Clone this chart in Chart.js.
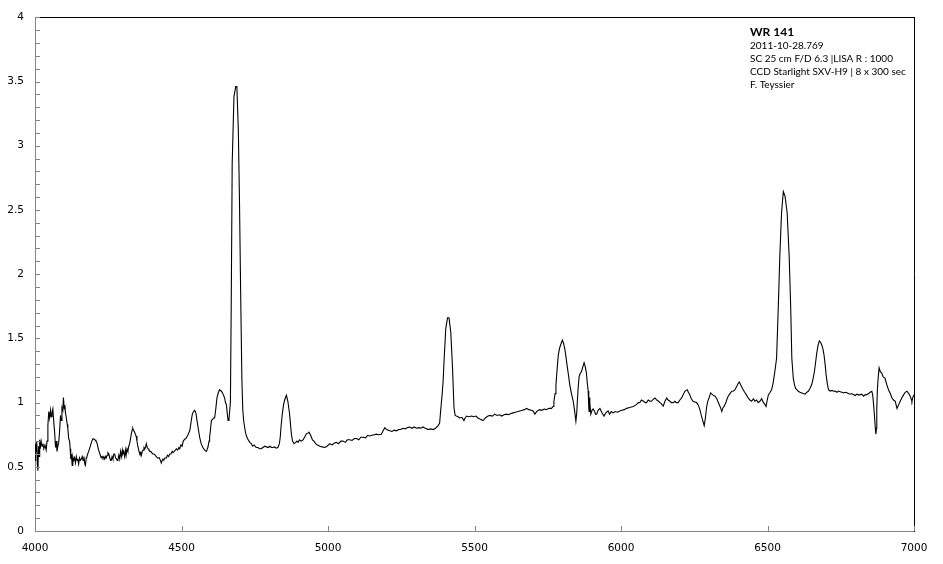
<!DOCTYPE html>
<html><head><meta charset="utf-8">
<script src="https://cdn.jsdelivr.net/npm/chart.js@4/dist/chart.umd.min.js"></script>
<style>html,body{margin:0;padding:0;background:#fff;}#wrap{width:943px;height:564px;}</style>
</head><body><div id="wrap"><canvas id="c" width="943" height="564"></canvas></div>
<script>
const wavelengths = [4000,4002,4004,4006,4008,4010,4012,4014,4016,4018,4021,4024,4027,4030,4034,4038,4041,4044,4047,4050,4053,4055,4058,4061,4064,4067,4070,4073,4075,4078,4081,4084,4087,4089,4092,4095,4097,4100,4102,4104,4107,4110,4112,4115,4118,4120,4122,4124,4127,4129,4132,4135,4138,4141,4144,4146,4149,4152,4155,4158,4161,4164,4167,4170,4172,4175,4177,4180,4183,4186,4190,4194,4198,4201,4205,4208,4211,4214,4217,4220,4223,4226,4229,4232,4235,4238,4241,4243,4246,4249,4252,4255,4258,4260,4263,4266,4269,4272,4275,4278,4281,4283,4286,4289,4292,4295,4298,4300,4303,4306,4309,4311,4314,4317,4320,4323,4326,4329,4332,4334,4337,4340,4343,4345,4348,4351,4355,4358,4361,4363,4366,4369,4372,4375,4378,4380,4383,4386,4389,4392,4395,4398,4402,4406,4410,4414,4418,4420,4424,4428,4431,4434,4437,4440,4444,4448,4452,4456,4460,4464,4468,4471,4475,4479,4483,4487,4491,4494,4498,4502,4506,4511,4515,4520,4524,4528,4531,4534,4537,4541,4545,4549,4553,4557,4562,4567,4573,4579,4585,4590,4594,4596,4599,4602,4606,4610,4613,4617,4621,4626,4630,4635,4639,4643,4647,4650,4653,4656,4659,4662,4665,4667,4670,4673,4679,4685,4689,4694,4698,4702,4706,4709,4712,4716,4719,4725,4733,4738,4743,4748,4755,4761,4766,4772,4778,4784,4790,4796,4802,4807,4812,4818,4823,4829,4834,4837,4840,4844,4848,4852,4858,4863,4866,4869,4872,4875,4879,4884,4890,4894,4898,4903,4908,4915,4920,4926,4931,4935,4940,4947,4952,4958,4964,4972,4980,4989,4997,5006,5014,5022,5029,5036,5044,5051,5059,5066,5074,5082,5090,5097,5105,5112,5120,5128,5135,5142,5150,5158,5165,5172,5182,5188,5194,5200,5206,5211,5218,5226,5234,5241,5248,5256,5264,5271,5279,5287,5294,5302,5310,5317,5324,5332,5342,5350,5359,5367,5376,5381,5385,5389,5393,5396,5402,5408,5413,5419,5425,5430,5434,5438,5444,5450,5457,5464,5468,5473,5480,5490,5497,5505,5512,5520,5529,5537,5546,5553,5561,5569,5577,5585,5593,5601,5609,5616,5624,5632,5640,5648,5655,5663,5670,5678,5686,5693,5700,5706,5712,5718,5723,5730,5738,5746,5754,5763,5768,5771,5775,5778,5782,5786,5790,5794,5800,5804,5808,5812,5816,5821,5825,5831,5837,5842,5846,5849,5851,5854,5857,5861,5865,5870,5874,5878,5882,5885,5888,5890,5891,5893,5894,5897,5901,5905,5910,5913,5917,5922,5928,5935,5942,5948,5956,5961,5967,5973,5980,5988,5996,6003,6011,6019,6027,6035,6042,6050,6055,6059,6064,6070,6077,6083,6087,6093,6099,6104,6110,6116,6122,6128,6133,6138,6144,6150,6156,6161,6167,6172,6178,6184,6189,6195,6201,6207,6212,6218,6222,6226,6230,6235,6240,6246,6252,6258,6264,6269,6274,6279,6284,6288,6292,6295,6301,6306,6313,6321,6327,6332,6338,6344,6348,6352,6358,6362,6366,6372,6378,6384,6389,6396,6400,6404,6410,6417,6422,6428,6434,6440,6446,6452,6457,6463,6468,6474,6480,6486,6490,6495,6499,6503,6509,6514,6519,6525,6531,6537,6542,6548,6554,6560,6567,6574,6579,6583,6588,6592,6596,6600,6605,6611,6617,6622,6628,6634,6639,6645,6651,6656,6660,6664,6668,6672,6677,6681,6685,6689,6693,6697,6700,6704,6708,6714,6720,6725,6731,6737,6742,6748,6754,6760,6765,6771,6776,6782,6788,6793,6799,6805,6810,6816,6822,6828,6833,6839,6845,6850,6856,6859,6862,6865,6868,6870,6872,6873,6875,6878,6881,6885,6890,6895,6901,6907,6913,6919,6925,6930,6936,6942,6947,6953,6959,6965,6970,6976,6982,6987,6990,6993,6996,7000];
const flux = [0.55,0.68,0.62,0.70,0.52,0.47,0.66,0.58,0.71,0.64,0.70,0.66,0.68,0.64,0.67,0.63,0.70,0.82,0.93,0.88,0.94,0.89,0.92,0.95,0.85,0.77,0.65,0.70,0.62,0.66,0.69,0.78,0.90,0.86,0.96,0.94,1.04,0.95,0.98,0.92,0.88,0.83,0.80,0.72,0.70,0.64,0.56,0.60,0.51,0.58,0.55,0.57,0.53,0.58,0.55,0.56,0.52,0.57,0.55,0.56,0.58,0.55,0.58,0.52,0.51,0.57,0.58,0.60,0.62,0.64,0.67,0.70,0.72,0.715,0.71,0.70,0.69,0.66,0.63,0.61,0.59,0.57,0.58,0.567,0.58,0.56,0.58,0.57,0.59,0.61,0.60,0.57,0.55,0.55,0.58,0.56,0.60,0.60,0.57,0.56,0.55,0.555,0.59,0.56,0.62,0.58,0.63,0.60,0.62,0.58,0.63,0.59,0.64,0.62,0.66,0.68,0.72,0.76,0.79,0.80,0.78,0.77,0.75,0.74,0.70,0.66,0.62,0.60,0.61,0.59,0.62,0.63,0.65,0.64,0.66,0.68,0.65,0.64,0.63,0.62,0.62,0.61,0.60,0.60,0.59,0.58,0.57,0.567,0.57,0.55,0.53,0.55,0.56,0.555,0.57,0.567,0.59,0.58,0.60,0.60,0.62,0.61,0.62,0.63,0.64,0.63,0.65,0.64,0.67,0.66,0.70,0.715,0.72,0.74,0.76,0.78,0.82,0.87,0.91,0.93,0.94,0.92,0.86,0.80,0.73,0.68,0.65,0.63,0.62,0.65,0.70,0.73,0.79,0.86,0.87,0.88,0.88,0.95,1.036,1.08,1.10,1.09,1.08,1.06,1.036,1.00,0.985,0.92,0.86,0.87,0.95,1.01,1.84,2.86,3.38,3.46,3.46,3.12,2.55,1.84,1.19,0.95,0.86,0.80,0.76,0.72,0.69,0.68,0.66,0.67,0.65,0.65,0.64,0.64,0.65,0.66,0.655,0.65,0.66,0.65,0.65,0.655,0.645,0.65,0.68,0.73,0.82,0.91,0.98,1.02,1.057,1.01,0.96,0.91,0.83,0.755,0.70,0.68,0.69,0.70,0.69,0.71,0.70,0.71,0.73,0.755,0.76,0.77,0.75,0.71,0.70,0.68,0.67,0.66,0.655,0.65,0.66,0.68,0.67,0.685,0.69,0.68,0.70,0.70,0.69,0.71,0.71,0.705,0.72,0.72,0.71,0.73,0.73,0.725,0.745,0.74,0.745,0.75,0.754,0.75,0.754,0.78,0.805,0.79,0.785,0.78,0.775,0.785,0.78,0.79,0.79,0.80,0.795,0.805,0.81,0.80,0.81,0.80,0.805,0.80,0.81,0.80,0.79,0.795,0.79,0.80,0.82,0.84,0.95,1.05,1.17,1.32,1.58,1.66,1.66,1.55,1.27,0.96,0.90,0.895,0.89,0.88,0.885,0.86,0.88,0.895,0.89,0.895,0.89,0.895,0.88,0.87,0.86,0.88,0.895,0.90,0.895,0.91,0.90,0.905,0.895,0.905,0.91,0.905,0.915,0.92,0.925,0.93,0.935,0.94,0.945,0.954,0.945,0.94,0.935,0.91,0.93,0.94,0.945,0.94,0.95,0.945,0.955,0.955,0.97,1.01,1.07,1.14,1.26,1.37,1.42,1.45,1.487,1.46,1.42,1.36,1.29,1.21,1.14,1.07,1.01,0.93,0.856,0.92,1.01,1.12,1.20,1.23,1.24,1.28,1.31,1.28,1.23,1.15,1.09,0.96,0.93,1.04,1.0,0.91,0.94,0.95,0.93,0.91,0.91,0.94,0.954,0.92,0.895,0.92,0.935,0.91,0.93,0.92,0.93,0.925,0.935,0.94,0.945,0.955,0.96,0.965,0.97,0.98,0.99,1.0,1.0,1.02,1.01,1.0,1.0,1.02,1.01,1.01,1.025,1.036,1.02,1.01,1.0,0.99,0.972,1.01,1.036,1.02,1.01,1.0,1.0,1.01,1.0,1.0,1.02,1.036,1.06,1.088,1.095,1.10,1.08,1.06,1.03,1.01,1.005,1.0,0.98,0.947,0.90,0.86,0.82,0.88,0.96,1.0,1.04,1.075,1.06,1.05,1.03,1.0,0.97,0.93,0.96,0.97,1.0,1.03,1.05,1.07,1.088,1.09,1.10,1.13,1.15,1.16,1.13,1.10,1.08,1.06,1.036,1.02,1.01,1.03,1.01,1.02,1.0,1.01,1.03,1.0,0.99,0.97,1.02,1.06,1.08,1.10,1.15,1.24,1.345,1.757,2.14,2.48,2.644,2.606,2.48,2.14,1.757,1.345,1.19,1.14,1.11,1.10,1.088,1.08,1.075,1.07,1.065,1.08,1.088,1.11,1.14,1.19,1.24,1.31,1.383,1.44,1.48,1.47,1.45,1.42,1.37,1.29,1.217,1.15,1.10,1.09,1.095,1.088,1.09,1.08,1.09,1.085,1.08,1.075,1.08,1.077,1.07,1.065,1.07,1.062,1.055,1.065,1.06,1.06,1.065,1.05,1.06,1.062,1.07,1.08,1.088,1.06,0.985,0.90,0.80,0.754,0.80,0.95,1.10,1.20,1.27,1.24,1.23,1.20,1.19,1.14,1.10,1.07,1.036,1.02,1.01,0.954,0.98,1.01,1.04,1.062,1.08,1.088,1.07,1.05,1.03,1.01,1.04,1.062];
const xRange = [4000, 7000];
const yRange = [0, 4];
const xStep = 500;
const yStep = 0.5;
const yMinorStep = 0.1;
const noteTitle = 'WR 141';
const noteLines = ['2011-10-28.769', 'SC 25 cm F/D 6.3 |LISA R : 1000', 'CCD Starlight SXV-H9 | 8 x 300 sec', 'F. Teyssier'];

const points = wavelengths.map((w, i) => ({x: w, y: flux[i]}));

const decor = {
  id: 'decor',
  afterDraw(chart) {
    const ctx = chart.ctx;
    const xs = chart.scales.x, ys = chart.scales.y;
    const a = chart.chartArea;
    ctx.save();
    ctx.strokeStyle = '#868686';
    ctx.lineWidth = 1;
    ctx.beginPath();
    const n = Math.round((yRange[1] - yRange[0]) / yMinorStep);
    for (let i = 0; i <= n; i++) {
      const py = Math.round(ys.getPixelForValue(yRange[0] + i * yMinorStep)) + 0.5;
      ctx.moveTo(a.left, py); ctx.lineTo(a.left + 5, py);
    }
    xs.ticks.forEach(t => {
      const px = Math.round(xs.getPixelForValue(t.value)) + 0.5;
      ctx.moveTo(px, a.bottom); ctx.lineTo(px, a.bottom - 5);
    });
    ctx.stroke();
    const tx = a.left + 715;
    ctx.fillStyle = '#000';
    ctx.textAlign = 'left';
    ctx.textBaseline = 'alphabetic';
    ctx.font = 'bold 12px Lato';
    ctx.fillText(noteTitle, tx, 35.5);
    ctx.font = '10px Lato';
    noteLines.forEach((s, i) => ctx.fillText(s, tx, 48.5 + i * 13.3));
    ctx.restore();
  }
};

new Chart(document.getElementById('c'), {
  type: 'line',
  data: { datasets: [{ data: points, borderColor: '#000', borderWidth: 1.1, pointRadius: 0, tension: 0, fill: false }] },
  options: {
    responsive: false, devicePixelRatio: 1, animation: false,
    layout: { padding: 0 },
    plugins: { legend: { display: false }, tooltip: { enabled: false } },
    scales: {
      x: {
        type: 'linear', position: 'bottom', min: xRange[0], max: xRange[1],
        ticks: { stepSize: xStep, color: '#000', padding: 11, maxRotation: 0, font: { family: 'DejaVu Sans', size: 10.5 },
                 callback: v => String(v) },
        grid: { display: false, drawTicks: false },
        border: { color: '#868686', width: 1 },
        afterFit: s => { s.height = 33; }
      },
      xTop: {
        type: 'linear', position: 'top', min: xRange[0], max: xRange[1], display: true,
        ticks: { display: false }, grid: { display: false, drawTicks: false },
        border: { color: '#000', width: 1 },
        afterFit: s => { s.height = 12; }
      },
      y: {
        type: 'linear', position: 'left', min: yRange[0], max: yRange[1],
        ticks: { stepSize: yStep, color: '#000', padding: 11, font: { family: 'DejaVu Sans', size: 10.5 },
                 callback: v => String(Math.round(v * 10) / 10) },
        grid: { display: false, drawTicks: false },
        border: { color: '#868686', width: 1 },
        afterFit: s => { s.width = 35; }
      },
      yRight: {
        type: 'linear', position: 'right', min: yRange[0], max: yRange[1], display: true,
        ticks: { display: false }, grid: { display: false, drawTicks: false },
        border: { color: '#000', width: 1 },
        afterFit: s => { s.width = 29; }
      }
    }
  },
  plugins: [decor]
});
</script></body></html>
